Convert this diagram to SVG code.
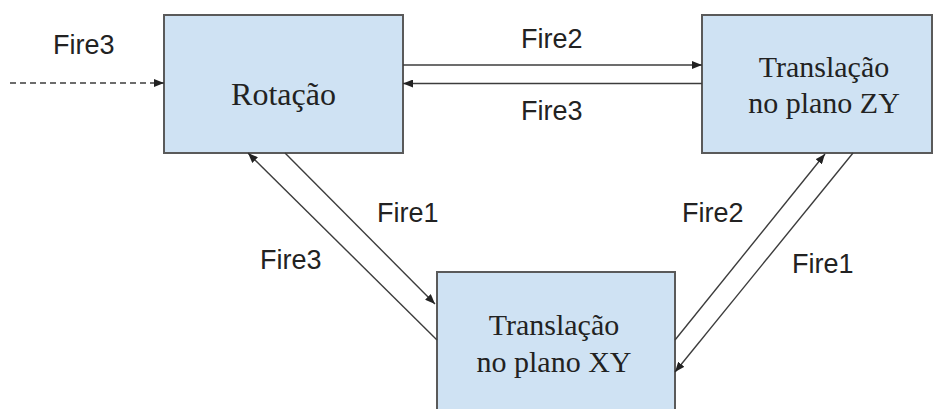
<svg xmlns="http://www.w3.org/2000/svg" width="934" height="409" viewBox="0 0 934 409">
  <defs>
    <marker id="arrow" viewBox="0 0 10 8" refX="10" refY="4" markerWidth="10" markerHeight="8" markerUnits="userSpaceOnUse" orient="auto">
      <path d="M0,0 L10,4 L0,8 Z" fill="#222"/>
    </marker>
    <style>
      .box { fill: #cfe2f3; stroke: #5a5a5a; stroke-width: 2; }
      .state { font-family: "Liberation Serif", "Times New Roman", serif; font-size: 30px; fill: #222; text-anchor: middle; }
      .big { font-size: 32px; }
      .label { font-family: "Liberation Sans", Arial, sans-serif; font-size: 27px; fill: #222; }
      .edge { fill: none; stroke: #3c3c3c; stroke-width: 1.4; marker-end: url(#arrow); }
      .dashed { stroke-dasharray: 6 4; }
    </style>
  </defs>

  <rect width="934" height="409" fill="#ffffff"/>

  <!-- states -->
  <g id="rotacao">
    <rect class="box" x="164" y="15" width="239" height="138"/>
    <text class="state big" x="283.5" y="104.5">Rotação</text>
  </g>
  <g id="translacao-zy">
    <rect class="box" x="702" y="15" width="230" height="138"/>
    <text class="state" x="824" y="77">Translação</text>
    <text class="state" x="824" y="113">no plano ZY</text>
  </g>
  <g id="translacao-xy">
    <rect class="box" x="437" y="272" width="238" height="160"/>
    <text class="state" x="554" y="335">Translação</text>
    <text class="state" x="554" y="371.5">no plano XY</text>
  </g>

  <!-- transitions -->
  <g id="connectors">
    <line class="edge dashed" x1="10" y1="83" x2="164" y2="83"/>
    <line class="edge" x1="403" y1="65" x2="702" y2="65"/>
    <line class="edge" x1="702" y1="83.5" x2="403" y2="83.5"/>
    <line class="edge" x1="285" y1="153" x2="435" y2="304"/>
    <line class="edge" x1="437" y1="340" x2="248" y2="153"/>
    <line class="edge" x1="675" y1="340" x2="825" y2="154"/>
    <line class="edge" x1="853" y1="153" x2="675" y2="372"/>
  </g>

  <!-- transition labels -->
  <g id="labels">
    <text class="label" x="53" y="54">Fire3</text>
    <text class="label" x="521" y="48">Fire2</text>
    <text class="label" x="521" y="120">Fire3</text>
    <text class="label" x="377" y="222">Fire1</text>
    <text class="label" x="260" y="269">Fire3</text>
    <text class="label" x="682" y="222">Fire2</text>
    <text class="label" x="792" y="273">Fire1</text>
  </g>
</svg>
